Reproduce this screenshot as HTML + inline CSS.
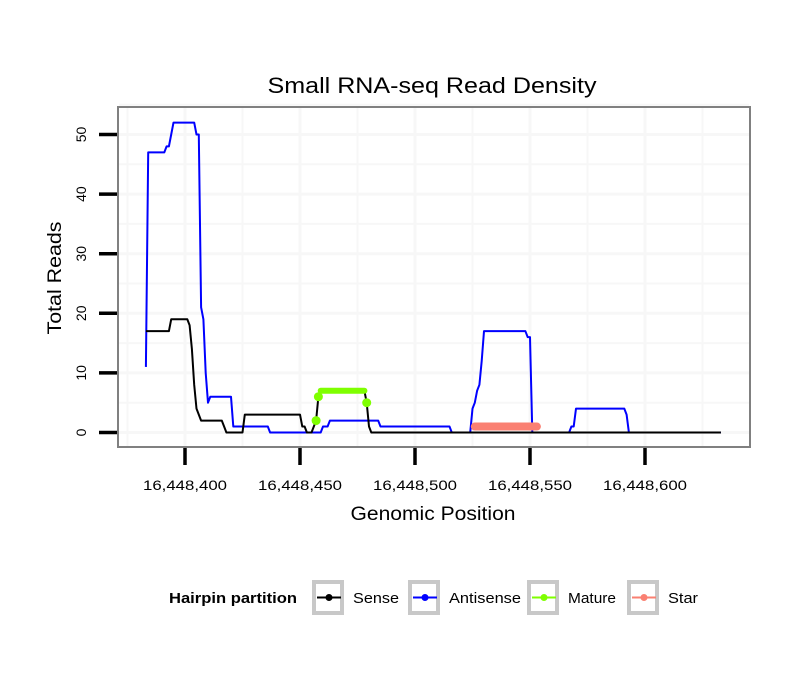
<!DOCTYPE html>
<html><head><meta charset="utf-8"><style>
body{margin:0;background:#fff;}
svg text{font-family:"Liberation Sans",Arial,sans-serif;}
</style></head><body>
<svg id="chart" width="810" height="690" xmlns="http://www.w3.org/2000/svg">
<text x="432" y="93" font-size="22" text-anchor="middle" textLength="329" lengthAdjust="spacingAndGlyphs">Small RNA-seq Read Density</text>
<g id="grid"></g>
<g id="series"></g>
<rect x="118" y="107" width="632" height="340" fill="none" stroke="#808080" stroke-width="2"/>
<g id="axes"></g>
<text x="433" y="520" font-size="19" text-anchor="middle" textLength="165" lengthAdjust="spacingAndGlyphs">Genomic Position</text>
<text transform="translate(61,278) rotate(-90)" font-size="19" text-anchor="middle" textLength="113" lengthAdjust="spacingAndGlyphs">Total Reads</text>
<g>
<text x="233" y="603" font-size="15" font-weight="bold" text-anchor="middle" textLength="128" lengthAdjust="spacingAndGlyphs">Hairpin partition</text>
<g id="legend"></g>
</g>
</svg>
<script>
const xTicks=[16448400,16448450,16448500,16448550,16448600];
const xTickLabels=["16,448,400","16,448,450","16,448,500","16,448,550","16,448,600"];
const yTicks=[0,10,20,30,40,50];
const senseBreaks=[[16448383,17],[16448393,17],[16448394,19],[16448401,19],[16448402,18],[16448403,14],[16448404,8],[16448405,4],[16448406,3],[16448407,2],[16448416,2],[16448417,1],[16448418,0],[16448425,0],[16448426,3],[16448450,3],[16448451,1],[16448452,1],[16448453,0],[16448455,0],[16448457,2],[16448458,6],[16448459,7],[16448478,7],[16448479,5],[16448480,1],[16448481,0],[16448633,0]];
const antisenseBreaks=[[16448383,11],[16448384,47],[16448391,47],[16448392,48],[16448393,48],[16448394,50],[16448395,52],[16448404,52],[16448405,50],[16448406,50],[16448407,21],[16448408,19],[16448409,10],[16448410,5],[16448411,6],[16448420,6],[16448421,1],[16448436,1],[16448437,0],[16448459,0],[16448460,1],[16448462,1],[16448463,2],[16448484,2],[16448485,1],[16448515,1],[16448516,0],[16448524,0],[16448525,4],[16448526,5],[16448527,7],[16448528,8],[16448529,12],[16448530,17],[16448548,17],[16448549,16],[16448550,16],[16448551,0],[16448567,0],[16448568,1],[16448569,1],[16448570,4],[16448591,4],[16448592,3],[16448593,0],[16448633,0]];
const matureBreaks=[[16448457,2],[16448458,6],[16448459,7],[16448478,7],[16448479,5]];
const starBreaks=[[16448526,1],[16448553,1]];
const seriesNames=["Sense","Antisense","Mature","Star"];
const seriesColors=["#000000","#0000ff","#7fff00","#fa8072"];

const NS="http://www.w3.org/2000/svg";
const X=p=>185+(p-16448400)*2.3;
const Y=v=>432.5-v*5.96;
function mk(tag,attrs,parent){const e=document.createElementNS(NS,tag);for(const k in attrs)e.setAttribute(k,attrs[k]);parent.appendChild(e);return e;}
const grid=document.getElementById('grid'),axes=document.getElementById('axes'),series=document.getElementById('series'),legend=document.getElementById('legend');
for(let p=16448375;p<=16448625;p+=25){const l=mk('line',{x1:X(p),x2:X(p),y1:108,y2:446,stroke:'#f7f7f7','stroke-width':p%50===0?3:2},grid);

}
for(let v=0;v<=55;v+=5){const l=mk('line',{x1:119,x2:749,y1:Y(v),y2:Y(v),stroke:'#f7f7f7','stroke-width':v%10===0?3:2},grid);

}
xTicks.forEach((t,i)=>{const l=mk('line',{x1:X(t),x2:X(t),y1:448,y2:465,stroke:'#000','stroke-width':3.5},axes);


const tx=mk('text',{x:X(t),y:490,'font-size':14,'text-anchor':'middle',textLength:84,lengthAdjust:'spacingAndGlyphs'},axes);tx.textContent=xTickLabels[i];

});
yTicks.forEach(t=>{const l=mk('line',{x1:99,x2:117,y1:Y(t),y2:Y(t),stroke:'#000','stroke-width':3.5},axes);


const tx=mk('text',{transform:`translate(86,${Y(t)}) rotate(-90)`,'font-size':14,'text-anchor':'middle'},axes);tx.textContent=t;

});
function pts(b){return b.map(d=>X(d[0])+','+Y(d[1])).join(' ');}
const ln1=mk('polyline',{points:pts(antisenseBreaks),fill:'none',stroke:seriesColors[1],'stroke-width':2,'stroke-linejoin':'round'},series);


const ln0=mk('polyline',{points:pts(senseBreaks),fill:'none',stroke:seriesColors[0],'stroke-width':2,'stroke-linejoin':'round'},series);


const ln2=mk('polyline',{points:pts(matureBreaks.slice(2,4)),fill:'none',stroke:seriesColors[2],'stroke-width':6,'stroke-linejoin':'round','stroke-linecap':'round'},series);


[matureBreaks[0],matureBreaks[1],matureBreaks[matureBreaks.length-1]].forEach(d=>{const c=mk('circle',{cx:X(d[0]),cy:Y(d[1]),r:4.5,fill:seriesColors[2]},series);

});
const ln3=mk('polyline',{points:pts(starBreaks),fill:'none',stroke:seriesColors[3],'stroke-width':8,'stroke-linecap':'round'},series);


const lx=[312,408,527,627];
const tw=[46,72,48,30];
seriesNames.forEach((n,i)=>{const g=mk('g',{},legend);


mk('rect',{x:lx[i]+2,y:582,width:28,height:31,fill:'none',stroke:'#c8c8c8','stroke-width':4},g);
mk('line',{x1:lx[i]+5,x2:lx[i]+29,y1:597.5,y2:597.5,stroke:seriesColors[i],'stroke-width':2},g);
mk('circle',{cx:lx[i]+17,cy:597.5,r:3.5,fill:seriesColors[i]},g);
const t=mk('text',{x:lx[i]+41,y:603,'font-size':15,textLength:tw[i],lengthAdjust:'spacingAndGlyphs'},g);t.textContent=n;});
</script>
</body></html>
